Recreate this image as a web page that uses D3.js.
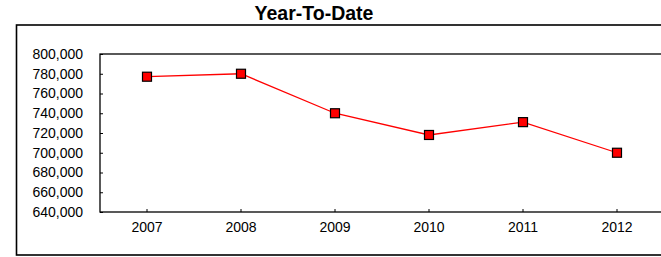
<!DOCTYPE html>
<html>
<head>
<meta charset="utf-8">
<script src="https://cdn.jsdelivr.net/npm/d3@7"></script>
<style>
  html, body { margin: 0; padding: 0; background: #fff; }
  svg { display: block; font-family: "Liberation Sans", Arial, sans-serif; }
</style>
</head>
<body>
<div id="chart"></div>
<script>
const years = ['2007', '2008', '2009', '2010', '2011', '2012'];
const ytdValues = [777000, 780000, 740000, 718000, 731000, 700000];
const yTicks = [640000, 660000, 680000, 700000, 720000, 740000, 760000, 780000, 800000];
const title = 'Year-To-Date';

const width = 661, height = 257;
const plot = { left: 100, top: 54, right: 664, bottom: 212 };

const svg = d3.select('#chart').append('svg')
  .attr('width', width)
  .attr('height', height);

// outer frame (runs off the right edge like the original)
svg.append('rect')
  .attr('x', 16.5).attr('y', 25)
  .attr('width', 680).attr('height', 230)
  .attr('fill', 'none')
  .attr('stroke', '#000')
  .attr('stroke-width', 1.6);

svg.append('text')
  .attr('x', 314)
  .attr('y', 20)
  .attr('text-anchor', 'middle')
  .style('font-size', '19.5px')
  .style('font-weight', 'bold')
  .text(title);

const x = d3.scaleBand()
  .domain(years)
  .range([plot.left, plot.right]);

const y = d3.scaleLinear()
  .domain([640000, 800000])
  .range([plot.bottom, plot.top]);

// plot area border
svg.append('rect')
  .attr('x', plot.left).attr('y', plot.top)
  .attr('width', plot.right - plot.left + 20)
  .attr('height', plot.bottom - plot.top)
  .attr('fill', 'none')
  .attr('stroke', '#000')
  .attr('stroke-width', 1.3);

// Axes
const fmt = d3.format(',');
const yAxis = svg.append('g')
  .attr('transform', `translate(${plot.left},0)`)
  .call(d3.axisLeft(y).tickValues(yTicks).tickFormat(fmt).tickSizeInner(-3).tickSizeOuter(0).tickPadding(17));
yAxis.select('.domain').remove();
yAxis.selectAll('line').attr('stroke', '#000');
yAxis.selectAll('text')
  .attr('fill', '#000')
  .style('font-size', '14px')
  .style('font-family', '"Liberation Sans", Arial, sans-serif');

const xAxis = svg.append('g')
  .attr('transform', `translate(0,${plot.bottom})`)
  .call(d3.axisBottom(x).tickSizeInner(-3).tickSizeOuter(0).tickPadding(10));
xAxis.select('.domain').remove();
xAxis.selectAll('line').attr('stroke', '#000');
xAxis.selectAll('text')
  .attr('fill', '#000')
  .style('font-size', '14px')
  .style('font-family', '"Liberation Sans", Arial, sans-serif');

// Line
const cx = d => x(d) + x.bandwidth() / 2;
const line = d3.line()
  .x((d, i) => cx(years[i]))
  .y(d => y(d));

svg.append('path')
  .datum(ytdValues)
  .attr('d', line)
  .attr('fill', 'none')
  .attr('stroke', '#ff0000')
  .attr('stroke-width', 1.3);

// Markers
const size = 9;
svg.selectAll('.marker')
  .data(ytdValues)
  .enter().append('rect')
  .attr('class', 'marker')
  .attr('x', (d, i) => cx(years[i]) - size / 2)
  .attr('y', d => y(d) - size / 2)
  .attr('width', size)
  .attr('height', size)
  .attr('fill', '#ff0000')
  .attr('stroke', '#000')
  .attr('stroke-width', 1.2);
</script>
</body>
</html>
